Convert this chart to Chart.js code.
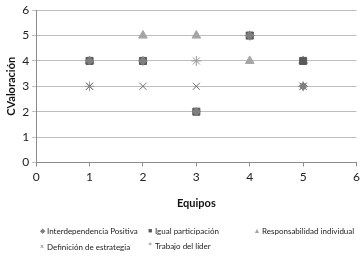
<!DOCTYPE html>
<html>
<head>
<meta charset="utf-8">
<script src="https://cdn.jsdelivr.net/npm/chart.js@4.4.1/dist/chart.umd.min.js"></script>
<style>
  html, body { margin: 0; padding: 0; background: #fff; }
  #wrap { position: relative; width: 364px; height: 257px; }
  #legend { position: absolute; left: 0; top: 224px; width: 364px; font-family: Lato, sans-serif; font-size: 8px; color: #222; }
  #legend span.item { position: absolute; white-space: nowrap; line-height: 12px; }
  #legend span.mk { display: inline-block; width: 8px; text-align: center; margin-right: 1px; font-size: 7px; vertical-align: 1px; }
  #legend span.mk.big { font-size: 11px; vertical-align: -2px; }
</style>
</head>
<body>
<div id="wrap">
  <canvas id="chart" width="364" height="257"></canvas>
  <div id="legend"></div>
</div>
<script>
// teams on the x axis
const equipos = [1, 2, 3, 4, 5];

// ratings per criterion
const interdependencia = [4, 4, 2, 5, 3];
const igualParticipacion = [4, 4, 2, 5, 4];
const responsabilidad = [4, 5, 5, 4, 4];
const definicionEstrategia = [3, 3, 3, 5, 3];
const trabajoLider = [3, 4, 4, 5, 3];

const seriesNames = ['Interdependencia Positiva', 'Igual participación', 'Responsabilidad individual', 'Definición de estrategia', 'Trabajo del líder'];
const seriesValues = [interdependencia, igualParticipacion, responsabilidad, definicionEstrategia, trabajoLider];
const seriesStyles = [
  { pointStyle: 'rectRot', color: '#7f7f7f', radius: 4, symbol: '◆' },
  { pointStyle: 'rect', color: '#5a5a5a', radius: 5, symbol: '■' },
  { pointStyle: 'triangle', color: '#a5a5a5', radius: 5, symbol: '▲' },
  { pointStyle: 'crossRot', color: '#6e6e6e', radius: 5, symbol: '×' },
  { pointStyle: 'star', color: '#9a9a9a', radius: 5, symbol: '*' }
];

const datasets = seriesNames.map((name, i) => ({
  label: name,
  data: equipos.map((x, j) => ({ x: x, y: seriesValues[i][j] })),
  pointStyle: seriesStyles[i].pointStyle,
  pointRadius: seriesStyles[i].radius,
  backgroundColor: seriesStyles[i].color,
  borderColor: seriesStyles[i].color,
  borderWidth: 1,
  showLine: false
}));

const ctx = document.getElementById('chart').getContext('2d');
const chart = new Chart(ctx, {
  type: 'scatter',
  data: { datasets: datasets },
  options: {
    responsive: false,
    animation: false,
    layout: { padding: { top: 0, right: 6, bottom: 43, left: 1 } },
    plugins: { legend: { display: false }, tooltip: { enabled: false } },
    scales: {
      x: {
        min: 0, max: 6,
        ticks: { stepSize: 1, color: '#222', font: { family: 'Lato', size: 12 }, padding: 4 },
        grid: { drawOnChartArea: false, drawTicks: true, tickLength: 4, color: '#8c8c8c' },
        border: { color: '#8c8c8c' },
        title: { display: true, text: 'Equipos', color: '#111', font: { family: 'Lato', size: 11, weight: 'bold' }, padding: { top: 8 } }
      },
      y: {
        min: 0, max: 6,
        ticks: { stepSize: 1, color: '#222', font: { family: 'Lato', size: 12 }, padding: 3 },
        grid: { color: '#bdbdbd', tickLength: 4 },
        border: { color: '#8c8c8c' },
        title: { display: true, text: 'CValoración', color: '#111', font: { family: 'Lato', size: 11, weight: 'bold' }, padding: { bottom: 1 } }
      }
    }
  }
});

// legend laid out in columns like the original
const legendPos = [[38, 0], [146, 0], [253, 0], [38, 16], [146, 16]];
const legendEl = document.getElementById('legend');
chart.data.datasets.forEach((ds, i) => {
  const item = document.createElement('span');
  item.className = 'item';
  item.style.left = legendPos[i][0] + 'px';
  item.style.top = legendPos[i][1] + 'px';
  const mk = document.createElement('span');
  mk.className = seriesStyles[i].symbol === '*' ? 'mk big' : 'mk';
  mk.style.color = seriesStyles[i].color;
  mk.textContent = seriesStyles[i].symbol;
  item.appendChild(mk);
  item.appendChild(document.createTextNode(ds.label));
  legendEl.appendChild(item);
});
</script>
</body>
</html>
